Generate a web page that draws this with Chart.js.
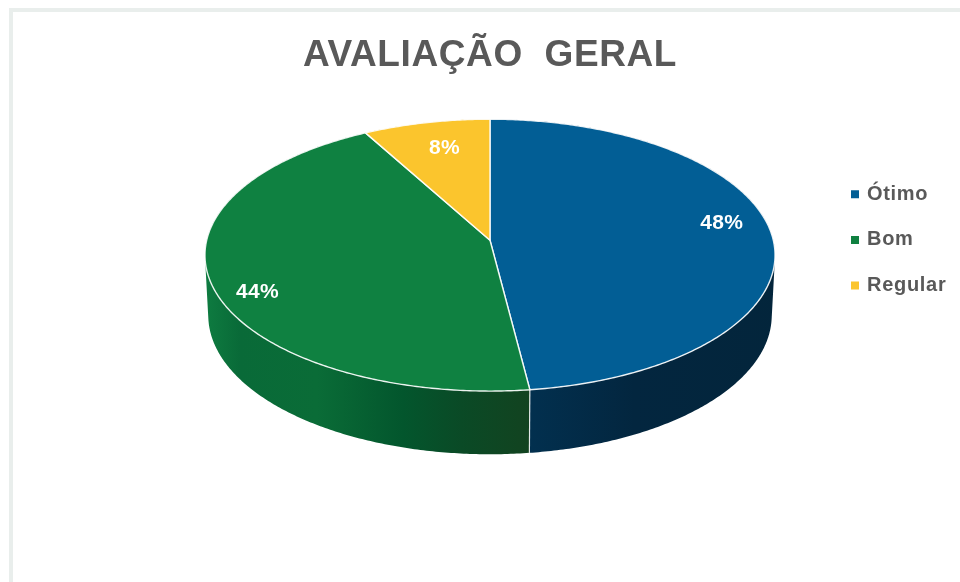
<!DOCTYPE html>
<html>
<head>
<meta charset="utf-8">
<style>
html,body{margin:0;padding:0;background:#fff;}
#wrap{position:relative;width:960px;height:582px;overflow:hidden;background:#fff;}
#frame{position:absolute;left:9px;top:8px;right:-10px;bottom:-10px;border-left:4px solid #e9eeec;border-top:4px solid #e9eeec;}
canvas{position:absolute;left:0;top:0;display:block;filter:blur(0.35px);}
</style>
</head>
<body>
<div id="wrap"><div id="frame"></div><canvas id="c" width="960" height="582"></canvas></div>
<script src="https://cdn.jsdelivr.net/npm/chart.js@4"></script>
<script>
const categories = ['Ótimo', 'Bom', 'Regular'];
const values = [48, 44, 8];
const colors = ['#025e95', '#0f8141', '#fbc52d'];
const chartTitle = 'AVALIAÇÃO  GERAL';

// Wall shading, left to right across the canvas (fraction of canvas width, colour)
const wallShades = [
  [[0.55, '#02304f'], [0.66, '#03263f'], [0.82, '#03253b']],
  [[0.215, '#0e7b40'], [0.25, '#096a38'], [0.33, '#0a6c37'], [0.42, '#03562d'], [0.48, '#0a4a26'], [0.55, '#124320']],
  [[0.38, '#b98f1c'], [0.51, '#b98f1c']]
];
const labelNudge = [[4, -10], [-8, 17], [7, 5]];

const TILT = 0.474, PERSP = 0.11, LABEL_R = 0.81;
const BOTTOM_SCALE = 0.9885, BOTTOM_TILT = 0.4905, BOTTOM_DROP = 59.7;

function project(arc, angle, f, bottom) {
  const t = angle + Math.PI / 2;
  const X = Math.sin(t) * f, Y = Math.cos(t) * f;
  const w = 1 + PERSP * Y;
  const r = arc.outerRadius * (bottom ? BOTTOM_SCALE : 1);
  const tilt = bottom ? BOTTOM_TILT : TILT;
  return {
    x: arc.x + r * X / w,
    y: arc.y + (bottom ? BOTTOM_DROP : 0) - r * tilt * Y / w
  };
}
function samples(arc) {
  const n = Math.max(8, Math.ceil((arc.endAngle - arc.startAngle) / 0.01));
  const a = [];
  for (let i = 0; i <= n; i++) a.push(arc.startAngle + (arc.endAngle - arc.startAngle) * i / n);
  return a;
}
function withSpacing(box, ctx, spacing) {
  if (box._spaced) return;
  const draw = box.draw;
  box.draw = function (...args) {
    const prev = ctx.letterSpacing;
    ctx.letterSpacing = spacing;
    draw.apply(box, args);
    ctx.letterSpacing = prev;
  };
  box._spaced = true;
}

const pie3d = {
  id: 'pie3d',
  afterLayout(chart) {
    const lg = chart.legend;
    lg.left = 827.3; lg.right = 960; lg.top = 158.5; lg.bottom = 335;
    withSpacing(chart.legend, chart.ctx, '0.7px');
    withSpacing(chart.titleBlock, chart.ctx, '0.6px');
  },
  beforeDatasetsDraw(chart) {
    const ctx = chart.ctx;
    const arcs = chart.getDatasetMeta(0).data;
    ctx.save();
    // side walls: all quads of a slice go in one path, wound the same way
    arcs.forEach((arc, i) => {
      const g = ctx.createLinearGradient(0, 0, chart.width, 0);
      wallShades[i].forEach(s => g.addColorStop(s[0], s[1]));
      const pts = samples(arc);
      ctx.beginPath();
      for (let k = 0; k < pts.length - 1; k += 1) {
        let q = [
          project(arc, pts[k], 1, false), project(arc, pts[k + 1], 1, false),
          project(arc, pts[k + 1], 1, true), project(arc, pts[k], 1, true)
        ];
        let area = 0;
        q.forEach((p, j) => { const n = q[(j + 1) % 4]; area += p.x * n.y - n.x * p.y; });
        if (area < 0) q = q.reverse();
        q.forEach((p, j) => { j ? ctx.lineTo(p.x, p.y) : ctx.moveTo(p.x, p.y); });
        ctx.closePath();
      }
      ctx.fillStyle = g;
      ctx.fill('nonzero');
    });
    // front seams between walls
    ctx.strokeStyle = 'rgba(255,255,255,0.85)';
    ctx.lineWidth = 1.2;
    arcs.forEach(arc => {
      const t = arc.endAngle + Math.PI / 2;
      if (Math.cos(t) < 0) {
        const a = project(arc, arc.endAngle, 1, false), b = project(arc, arc.endAngle, 1, true);
        ctx.beginPath(); ctx.moveTo(a.x, a.y); ctx.lineTo(b.x, b.y); ctx.stroke();
      }
    });
    // top faces
    arcs.forEach((arc, i) => {
      ctx.beginPath();
      ctx.moveTo(arc.x, arc.y);
      samples(arc).forEach(a => { const p = project(arc, a, 1, false); ctx.lineTo(p.x, p.y); });
      ctx.closePath();
      ctx.fillStyle = colors[i];
      ctx.fill();
      ctx.strokeStyle = 'rgba(255,255,255,0.9)';
      ctx.lineWidth = 1.4;
      ctx.lineJoin = 'round';
      ctx.stroke();
    });
    // value labels
    ctx.fillStyle = '#ffffff';
    ctx.font = 'bold 21px "Liberation Sans"';
    ctx.letterSpacing = '0.4px';
    ctx.textAlign = 'center';
    ctx.textBaseline = 'middle';
    arcs.forEach((arc, i) => {
      const p = project(arc, (arc.startAngle + arc.endAngle) / 2, LABEL_R, false);
      ctx.fillText(values[i] + '%', p.x + labelNudge[i][0], p.y + labelNudge[i][1]);
    });
    ctx.letterSpacing = '0px';
    ctx.restore();
    return false;
  }
};

new Chart(document.getElementById('c'), {
  type: 'pie',
  data: {
    labels: categories,
    datasets: [{ data: values, backgroundColor: colors, borderWidth: 0, radius: 283.3 }]
  },
  options: {
    responsive: false,
    animation: false,
    layout: { padding: { left: 20, right: 0, top: 0, bottom: 180 } },
    plugins: {
      tooltip: { enabled: false },
      title: {
        display: true,
        text: chartTitle,
        color: '#595959',
        font: { family: '"Liberation Sans"', size: 37, weight: 'bold' },
        padding: { top: 34, bottom: 0 }
      },
      legend: {
        display: true,
        position: 'chartArea',
        align: 'start',
        labels: {
          color: '#595959',
          font: { family: '"Liberation Sans"', size: 20, weight: 'bold' },
          boxWidth: 4, boxHeight: 4, padding: 25.7,
          generateLabels(chart) {
            return categories.map((name, i) => ({
              text: name, fillStyle: colors[i], strokeStyle: colors[i], lineWidth: 4,
              fontColor: '#595959', index: i, hidden: false
            }));
          }
        }
      }
    }
  },
  plugins: [pie3d]
});
</script>
</body>
</html>
